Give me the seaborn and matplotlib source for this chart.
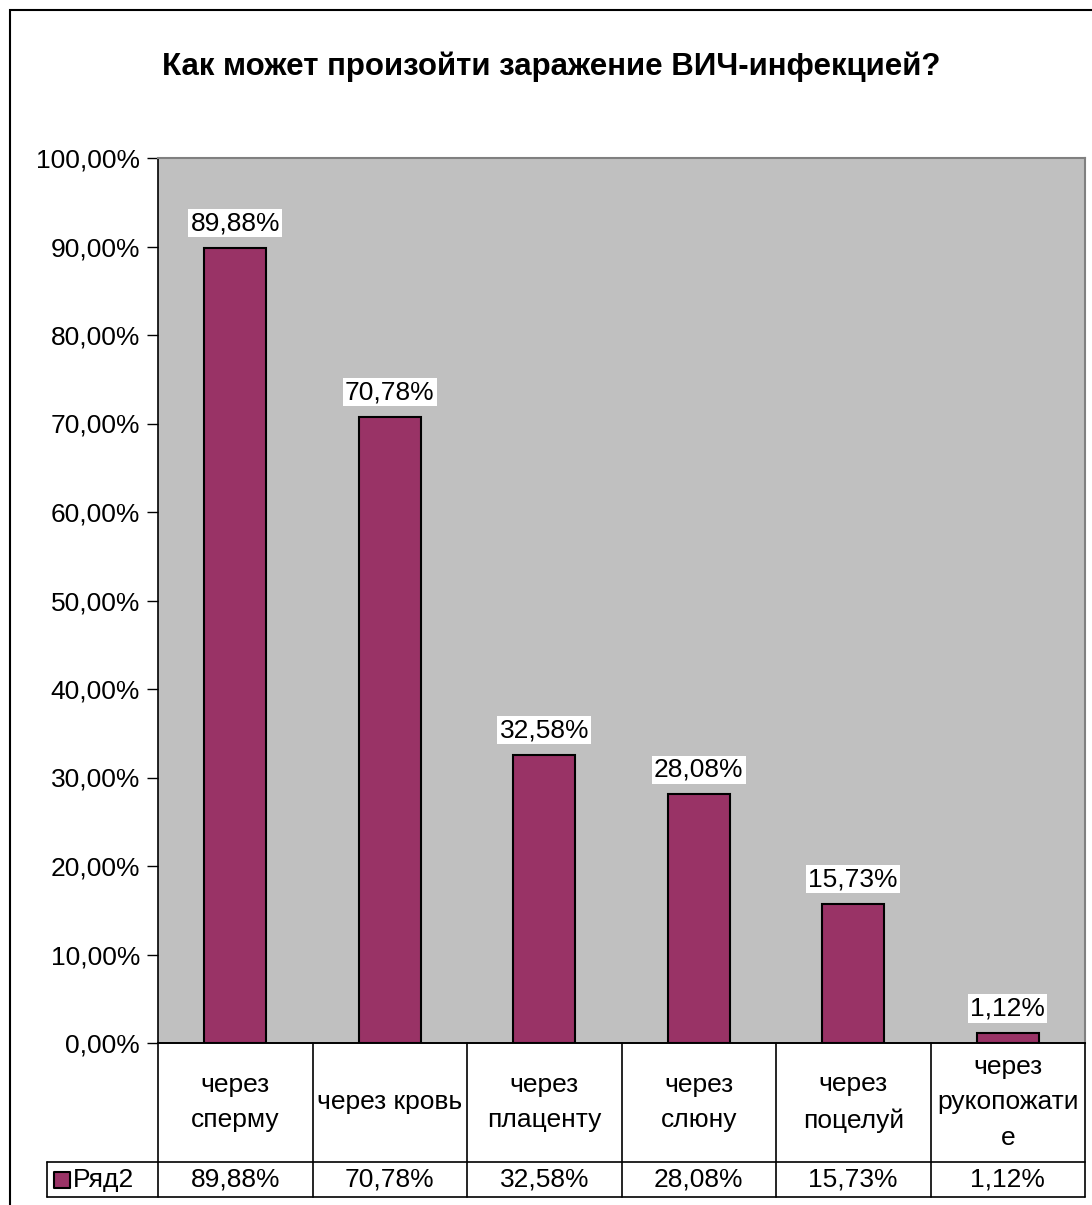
import matplotlib
matplotlib.use("Agg")
import matplotlib.pyplot as plt
import seaborn as sns
import pandas as pd
from matplotlib.patches import Rectangle
from matplotlib.ticker import FuncFormatter, MultipleLocator

# Values
categories = ["через сперму", "через кровь", "через плаценту",
              "через слюну", "через поцелуй", "через рукопожатие"]
header_labels = ["через\nсперму", "через кровь", "через\nплаценту",
                 "через\nслюну", "через\nпоцелуй", "через\nрукопожати\nе"]
values = [89.88, 70.78, 32.58, 28.08, 15.73, 1.12]
series_name = "Ряд2"
title = "Как может произойти заражение ВИЧ-инфекцией?"

bar_color = "#993366"
plot_bg = "#C0C0C0"

def pct(v):
    return f"{v:.2f}%".replace(".", ",")

sns.set_theme(style="white")
plt.rcParams["font.family"] = ["Liberation Sans", "DejaVu Sans"]
plt.rcParams["text.color"] = "black"
plt.rcParams["ytick.color"] = "black"
plt.rcParams["ytick.labelcolor"] = "black"

W, H = 1092, 1205
fs = 19
fig = plt.figure(figsize=(W / 100, H / 100), dpi=100)

left, right = 158 / W, 1085 / W
bottom, top = 1 - 1043 / H, 1 - 158 / H
ax = fig.add_axes([left, bottom, right - left, top - bottom])

df = pd.DataFrame({"cat": categories, "val": values})
sns.barplot(data=df, x="cat", y="val", color=bar_color, saturation=1,
            width=0.4, edgecolor="black", linewidth=1.5, ax=ax)
ax.set_facecolor(plot_bg)
ax.set_xlim(-0.5, len(categories) - 0.5)
ax.set_ylim(0, 100)
ax.yaxis.set_major_locator(MultipleLocator(10))
ax.yaxis.set_major_formatter(FuncFormatter(lambda v, p: pct(v)))
ax.tick_params(axis="y", left=True, length=8, width=1, color="black",
               labelcolor="black", labelsize=fs, pad=5)
ax.set_xticks([])
ax.set_xlabel("")
ax.set_ylabel("")
for s in ["top", "right"]:
    ax.spines[s].set_color("#808080")
    ax.spines[s].set_linewidth(1.5)
for s in ["left", "bottom"]:
    ax.spines[s].set_color("black")
    ax.spines[s].set_linewidth(1.2)

ax.bar_label(ax.containers[0], labels=[pct(v) for v in values], padding=9,
             fontsize=fs, color="black",
             bbox=dict(facecolor="white", edgecolor="none", pad=1.5))

# data table under the plot
tb = 1 - 1197 / H
tax = fig.add_axes([left, tb, right - left, bottom - tb])
tax.set_xlim(-0.5, len(categories) - 0.5)
tax.set_ylim(0, 1)
tax.axis("off")
row_div = 35 / 154
legend_left = -0.5 - (158 - 47) / ((1085 - 158) / len(categories))
lc = "black"
tax.plot([-0.5, len(categories) - 0.5], [1, 1], color=lc, lw=1.2, clip_on=False)
tax.plot([legend_left, len(categories) - 0.5], [row_div, row_div], color=lc, lw=1.2, clip_on=False)
tax.plot([legend_left, len(categories) - 0.5], [0, 0], color=lc, lw=1.2, clip_on=False)
tax.plot([legend_left, legend_left], [0, row_div], color=lc, lw=1.2, clip_on=False)
for i in range(len(categories) + 1):
    tax.plot([i - 0.5, i - 0.5], [0, 1], color=lc, lw=1.2, clip_on=False)
for i, (lab, v) in enumerate(zip(header_labels, values)):
    tax.text(i, (1 + row_div) / 2, lab, ha="center", va="center",
             fontsize=fs, linespacing=1.6)
    tax.text(i, row_div / 2, pct(v), ha="center", va="center", fontsize=fs)
tax.scatter([legend_left + 0.1], [row_div / 2], marker="s", s=120,
            color=bar_color, edgecolor="black", linewidth=1.5, clip_on=False)
tax.text(legend_left + 0.165, row_div / 2, series_name, ha="left", va="center",
         fontsize=fs)

fig.text(0.505, 1 - 67 / H, title, ha="center", va="center",
         fontsize=22.5, fontweight="bold")

fig.patches.append(Rectangle((10 / W, -0.1), 1.2, 1.1 - 10 / H,
                             transform=fig.transFigure, fill=False,
                             edgecolor="black", linewidth=1.5))

fig.savefig("out.png", dpi=100, facecolor="white")
